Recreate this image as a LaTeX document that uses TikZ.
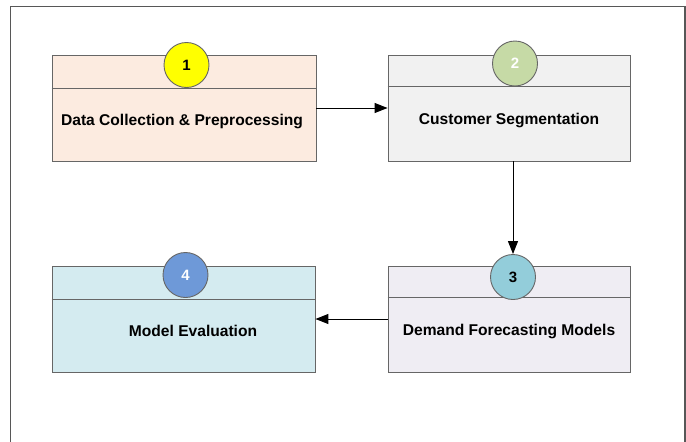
\documentclass[tikz,border=0pt]{standalone}
\usepackage{fontspec}
\setmainfont{Liberation Sans}
\usetikzlibrary{arrows.meta}
\definecolor{edgegray}{HTML}{666666}
\definecolor{peach}{HTML}{FCEBE0}
\definecolor{lightgray}{HTML}{F1F1F1}
\definecolor{lavender}{HTML}{EFEDF3}
\definecolor{paleblue}{HTML}{D4EBF0}
\definecolor{cyellow}{HTML}{FFFF00}
\definecolor{cgreen}{HTML}{C6DAA6}
\definecolor{ccyan}{HTML}{93CDDA}
\definecolor{cblue}{HTML}{6E99D8}
\tikzset{
  stage/.style={draw=edgegray, line width=0.9pt, minimum width=264pt, minimum height=106pt, inner sep=0pt},
  badge/.style={circle, draw=edgegray, line width=0.9pt, minimum size=45pt, inner sep=0pt, font=\fontsize{15}{17}\selectfont\bfseries},
  label/.style={font=\fontsize{15.6}{19}\selectfont\bfseries},
  flow/.style={draw=black, line width=1pt, -{Triangle[length=13pt,width=10pt]}}
}
\begin{document}
\begin{tikzpicture}[x=1pt,y=-1pt]
\useasboundingbox (0,0) rectangle (686,442);
\fill[white] (0,0) rectangle (686,442);
% outer frame, open at the bottom
\draw[edgegray!85!black, line width=1.8pt] (10.5,442) -- (10.5,6.5) -- (685,6.5) -- (685,442);

% stage boxes
\node[stage, fill=peach] (s1) at (184,108) {};
\node[stage, fill=lightgray, minimum width=242pt] (s2) at (509,108) {};
\node[stage, fill=lavender, minimum width=242pt] (s3) at (509,319) {};
\node[stage, fill=paleblue, minimum width=263pt] (s4) at (183.5,319) {};

% header dividers
\draw[edgegray, line width=0.9pt] (s1.west |- 0,88.5) -- (s1.east |- 0,88.5);
\draw[edgegray, line width=0.9pt] (s2.west |- 0,86.5) -- (s2.east |- 0,86.5);
\draw[edgegray, line width=0.9pt] (s3.west |- 0,297.5) -- (s3.east |- 0,297.5);
\draw[edgegray, line width=0.9pt] (s4.west |- 0,299) -- (s4.east |- 0,299);

% titles
\node[label] (t1) at (182,121) {Data Collection \& Preprocessing};
\node[label] (t2) at (509,120) {Customer Segmentation};
\node[label] (t3) at (509,331) {Demand Forecasting Models};
\node[label] (t4) at (193,331) {Model Evaluation};

% numbered badges
\node[badge, fill=cyellow, text=black] (b1) at (186.5,65) {1};
\node[badge, fill=cgreen, text=white] (b2) at (515,63.5) {2};
\node[badge, fill=ccyan, text=black] (b3) at (513,277) {3};
\node[badge, fill=cblue, text=white] (b4) at (185.5,275) {4};

% flow between stages
\draw[flow] (s1.east |- 0,108) -- (s2.west |- 0,108);
\draw[flow] (s2.south -| b3.north) -- (b3.north);
\draw[flow] (s3.west |- 0,319) -- (s4.east |- 0,319);
\end{tikzpicture}
\end{document}
